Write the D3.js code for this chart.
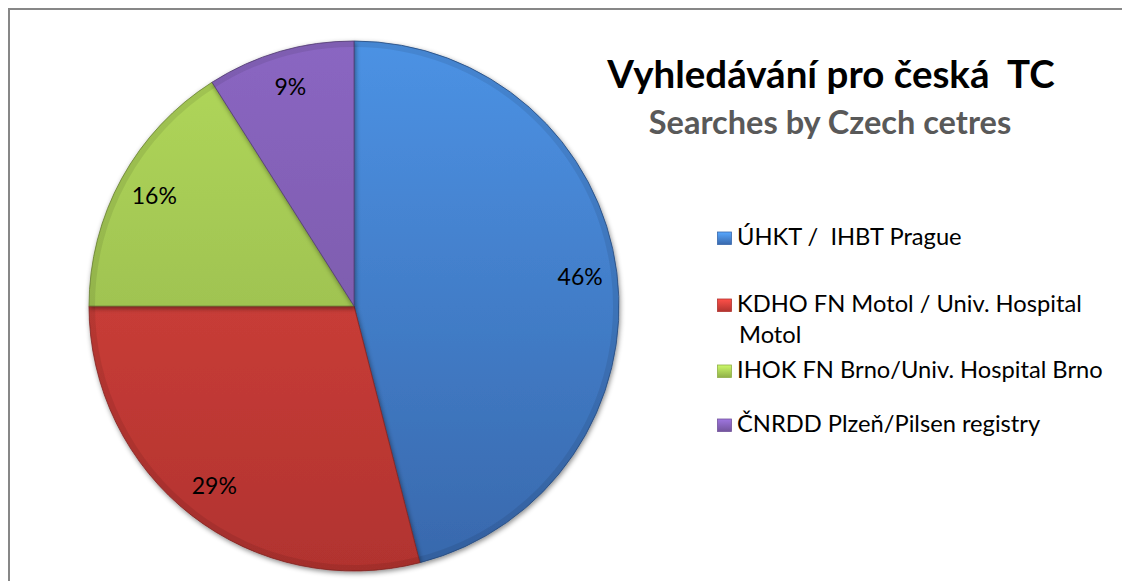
<!DOCTYPE html>
<html>
<head>
<meta charset="utf-8">
<script src="https://cdn.jsdelivr.net/npm/d3@7"></script>
<style>
  body { margin: 0; background: #fff; overflow: hidden; }
  svg { display: block; font-family: Lato, "Open Sans", sans-serif; }
  text { white-space: pre; }
</style>
</head>
<body>
<svg id="chart" width="1122" height="581"></svg>
<script>
var width = 1122,
    height = 581;

// data
var centres = ["ÚHKT /  IHBT Prague",
               "KDHO FN Motol / Univ. Hospital\nMotol",
               "IHOK FN Brno/Univ. Hospital Brno",
               "ČNRDD Plzeň/Pilsen registry"];
var shares = [46, 29, 16, 9];
var topColors = ["#4c92e4", "#de453f", "#b1d85b", "#8a66c2"];
var bottomColors = ["#3868ac", "#b1332f", "#8faf47", "#73549c"];
var title = "Vyhledávání pro česká  TC",
    subtitle = "Searches by Czech cetres";

var cx = 354, cy = 306, radius = 265;

var svg = d3.select("#chart");
var defs = svg.append("defs");

// one vertical gradient per slice, over the whole pie
defs.selectAll(".pg")
  .data(shares)
  .enter().append("linearGradient")
  .attr("class", "pg")
  .attr("id", function(d, i) { return "grad" + i; })
  .attr("gradientUnits", "userSpaceOnUse")
  .attr("x1", 0).attr("x2", 0)
  .attr("y1", -radius).attr("y2", radius)
  .each(function(d, i) {
    d3.select(this).append("stop").attr("offset", "0%").attr("stop-color", topColors[i]);
    d3.select(this).append("stop").attr("offset", "100%").attr("stop-color", bottomColors[i]);
  });

defs.selectAll(".lg")
  .data(shares)
  .enter().append("linearGradient")
  .attr("class", "lg")
  .attr("id", function(d, i) { return "lg" + i; })
  .attr("x1", 0).attr("x2", 0).attr("y1", 0).attr("y2", 1)
  .each(function(d, i) {
    d3.select(this).append("stop").attr("offset", "0%").attr("stop-color", d3.color(topColors[i]).brighter(0.4));
    d3.select(this).append("stop").attr("offset", "100%").attr("stop-color", bottomColors[i]);
  });

var shadow = defs.append("filter").attr("id", "shadow")
  .attr("x", "-10%").attr("y", "-10%").attr("width", "120%").attr("height", "120%");
shadow.append("feDropShadow")
  .attr("dx", 1).attr("dy", 2).attr("stdDeviation", 2.5)
  .attr("flood-color", "#000").attr("flood-opacity", 0.45);

// outer frame, only top and left show
svg.append("line")
  .attr("x1", 8).attr("x2", width).attr("y1", 9).attr("y2", 9)
  .attr("stroke", "#878787").attr("stroke-width", 2);
svg.append("line")
  .attr("x1", 9).attr("x2", 9).attr("y1", 8).attr("y2", height)
  .attr("stroke", "#878787").attr("stroke-width", 2);

var pie = d3.pie().sort(null).value(function(d) { return d; });
var arc = d3.arc().innerRadius(0).outerRadius(radius);
var labelArc = d3.arc().innerRadius(radius * 0.86).outerRadius(radius * 0.86);
var bevel = d3.arc().innerRadius(radius - 6).outerRadius(radius);

var g = svg.append("g")
  .attr("transform", "translate(" + cx + "," + cy + ")");

var slices = g.selectAll(".slice")
  .data(pie(shares))
  .enter().append("g")
  .attr("class", "slice");

slices.append("path")
  .attr("d", arc)
  .attr("fill", function(d, i) { return "url(#grad" + i + ")"; })
  .attr("stroke", function(d, i) { return d3.color(bottomColors[i]).darker(0.8); })
  .attr("stroke-width", 0.8)
  .attr("filter", "url(#shadow)");

// soft rim so the slices look a bit raised
slices.append("path")
  .attr("d", bevel)
  .attr("fill", "#000")
  .attr("opacity", 0.08);

slices.append("text")
  .attr("transform", function(d) { return "translate(" + labelArc.centroid(d) + ")"; })
  .attr("text-anchor", "middle")
  .attr("dy", "0.35em")
  .style("font-size", "23px")
  .style("fill", "#000")
  .text(function(d) { return d.data + "%"; });

// titles
svg.append("text")
  .attr("x", 831).attr("y", 88)
  .attr("text-anchor", "middle")
  .style("font-size", "38.5px")
  .style("font-weight", "bold")
  .style("fill", "#000")
  .text(title);

svg.append("text")
  .attr("x", 830).attr("y", 134)
  .attr("text-anchor", "middle")
  .style("font-size", "32.5px")
  .style("font-weight", "bold")
  .style("fill", "#595959")
  .text(subtitle);

// legend
var legendRows = [245, 312, 378, 432];
var legend = svg.append("g").attr("class", "legend");

var item = legend.selectAll(".item")
  .data(centres)
  .enter().append("g")
  .attr("class", "item")
  .attr("transform", function(d, i) { return "translate(717," + legendRows[i] + ")"; });

item.append("rect")
  .attr("x", 0.5).attr("y", -13)
  .attr("width", 14).attr("height", 12.5)
  .attr("fill", function(d, i) { return "url(#lg" + i + ")"; })
  .attr("stroke", function(d, i) { return bottomColors[i]; })
  .attr("stroke-width", 0.8);

item.append("text")
  .style("font-size", "23.7px")
  .style("fill", "#000")
  .each(function(d) {
    var t = d3.select(this);
    d.split("\n").forEach(function(line, k) {
      t.append("tspan")
        .attr("x", k ? 22 : 20)
        .attr("dy", k ? 31 : 0)
        .text(line);
    });
  });
</script>
</body>
</html>
